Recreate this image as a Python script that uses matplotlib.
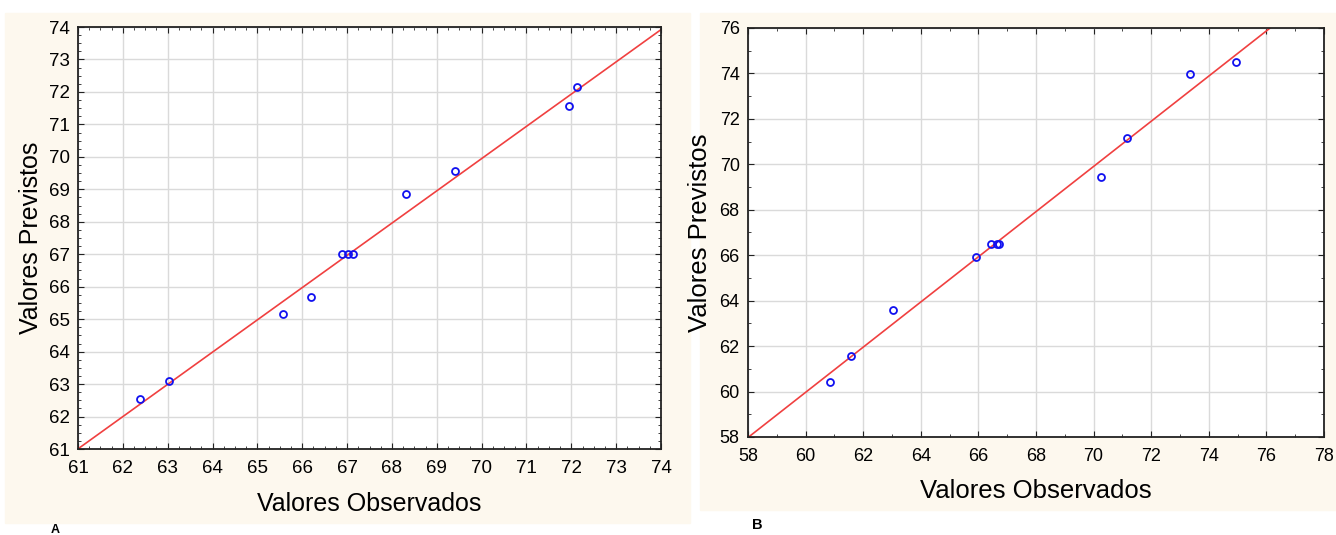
import matplotlib
matplotlib.use("Agg")
import matplotlib.pyplot as plt
import numpy as np
from matplotlib.ticker import MultipleLocator

plt.rcParams["font.family"] = ["Liberation Sans", "DejaVu Sans"]

# panel A: observed vs predicted
obs_a = [62.38, 63.03, 65.57, 66.2, 66.89, 67.02, 67.13, 68.31, 69.41, 71.95, 72.13]
pred_a = [62.55, 63.09, 65.16, 65.68, 67.0, 67.0, 67.0, 68.86, 69.56, 71.57, 72.15]
# panel B
obs_b = [60.85, 61.58, 63.03, 65.92, 66.44, 66.65, 66.72, 70.26, 71.16, 73.35, 74.94]
pred_b = [60.42, 61.56, 63.59, 65.93, 66.49, 66.49, 66.49, 69.44, 71.16, 73.98, 74.5]

W, H = 1336, 535
fig = plt.figure(figsize=(W / 100, H / 100), dpi=100)
fig.patch.set_facecolor("white")

cream = "#fdf8ee"
fig.add_artist(plt.Rectangle((5 / W, 1 - 523 / H), 685 / W, 510 / H,
                             transform=fig.transFigure, color=cream, zorder=-10))
fig.add_artist(plt.Rectangle((700 / W, 1 - 510 / H), 636 / W, 497 / H,
                             transform=fig.transFigure, color=cream, zorder=-10))


def panel(rect, x, y, xlim, ylim, step, minor, tfs, lfs, xpad, ylpad):
    ax = fig.add_axes(rect)
    ax.set_facecolor("white")
    ax.grid(True, color="#dadada", lw=1.0)
    ax.set_axisbelow(True)
    xs = np.array(xlim, dtype=float)
    k, b = np.polyfit(x, y, 1)
    ax.plot(xs, k * xs + b, color="#f04040", lw=1.2, zorder=2)
    ax.plot(x, y, "o", mfc="none", mec="#1010f0", ms=5, mew=1.3, zorder=3)
    ax.set_xlim(xlim)
    ax.set_ylim(ylim)
    ax.xaxis.set_major_locator(MultipleLocator(step))
    ax.yaxis.set_major_locator(MultipleLocator(step))
    ax.xaxis.set_minor_locator(MultipleLocator(minor))
    ax.yaxis.set_minor_locator(MultipleLocator(minor))
    ax.tick_params(which="both", direction="in", top=True, right=True,
                   labelsize=tfs, color="#222222")
    ax.tick_params(which="major", length=4)
    ax.tick_params(which="minor", length=2)
    ax.tick_params(axis="x", pad=8)
    ax.tick_params(axis="y", pad=6)
    for s in ax.spines.values():
        s.set_linewidth(1.3)
        s.set_color("#222222")
    ax.set_xlabel("Valores Observados", fontsize=lfs, labelpad=xpad)
    ax.set_ylabel("Valores Previstos", fontsize=lfs, labelpad=ylpad)
    return ax


ax_a = panel([78 / W, 1 - 449 / H, 583 / W, 422 / H], obs_a, pred_a,
             (61, 74), (61, 74), 1, 0.25, 13.5, 18, 11, 4)
ax_b = panel([748 / W, 1 - 437 / H, 576 / W, 409 / H], obs_b, pred_b,
             (58, 78), (58, 76), 2, 1, 13, 18.5, 10, 5)

fig.text(55 / W, 1 - 530 / H, "A", fontsize=9, fontweight="bold", ha="center", va="center")
fig.text(757 / W, 1 - 525 / H, "B", fontsize=10.5, fontweight="bold", ha="center", va="center")

fig.savefig("out.png", dpi=100)
